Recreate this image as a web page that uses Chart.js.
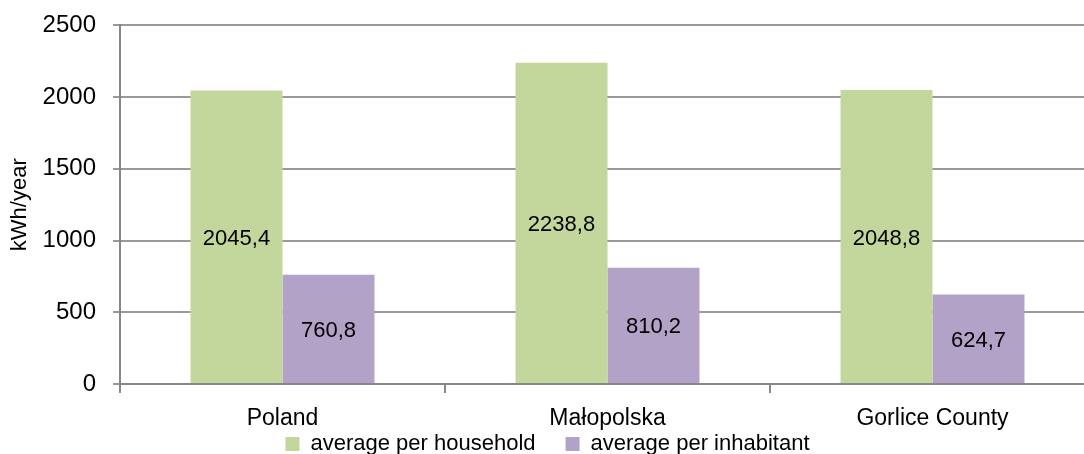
<!DOCTYPE html>
<html>
<head>
<meta charset="utf-8">
<script src="https://cdn.jsdelivr.net/npm/chart.js@4"></script>
<style>
  html, body { margin: 0; padding: 0; background: #fff; overflow: hidden; }
  #wrap { width: 1100px; height: 471px; margin-top: -6px; }
</style>
</head>
<body>
<div id="wrap"><canvas id="myChart" width="1100" height="471"></canvas></div>
<script>
'use strict';
let regions = ['Poland', 'Małopolska', 'Gorlice County'];
let perHousehold = [2045.4, 2238.8, 2048.8];
let perInhabitant = [760.8, 810.2, 624.7];
let seriesNames = ['average per household', 'average per inhabitant'];
let yTicks = [0, 500, 1000, 1500, 2000, 2500];

let fontName = '"Liberation Sans", Arial, sans-serif';

// labels in the middle of each bar, comma decimals
let barLabels = {
    id: 'barLabels',
    afterDatasetsDraw(chart) {
        let ctx = chart.ctx;
        ctx.save();
        ctx.font = '22px ' + fontName;
        ctx.fillStyle = '#000';
        ctx.textAlign = 'center';
        ctx.textBaseline = 'middle';
        chart.data.datasets.forEach((ds, i) => {
            chart.getDatasetMeta(i).data.forEach((bar, j) => {
                let txt = ds.data[j].toFixed(1).replace('.', ',');
                ctx.fillText(txt, bar.x, (bar.y + bar.base) / 2 + 2);
            });
        });
        ctx.restore();
    }
};

let ctx = document.getElementById('myChart').getContext('2d');
let myChart = new Chart(ctx, {
    type: 'bar',
    data: {
        labels: regions,
        datasets: [{
            label: seriesNames[0],
            data: perHousehold,
            backgroundColor: '#c3d69b'
        }, {
            label: seriesNames[1],
            data: perInhabitant,
            backgroundColor: '#b2a2c7'
        }]
    },
    options: {
        responsive: false,
        animation: false,
        layout: { padding: { top: 19, left: 0, right: 5, bottom: 0 } },
        datasets: {
            bar: { barPercentage: 1, categoryPercentage: 0.566 }
        },
        plugins: {
            tooltip: { enabled: false },
            legend: {
                position: 'bottom',
                labels: {
                    boxWidth: 14,
                    boxHeight: 14,
                    padding: 30,
                    color: '#000',
                    font: { family: fontName, size: 22 }
                }
            }
        },
        scales: {
            x: {
                grid: { drawOnChartArea: false, color: '#888', lineWidth: 2, tickLength: 9, offset: true },
                border: { color: '#888', width: 2 },
                // mirror + negative padding: labels sit below the short axis box without being clipped
                ticks: { color: '#000', mirror: true, padding: -48, font: { family: fontName, size: 23 } },
                afterFit(scale) { scale.height = 19; }
            },
            y: {
                min: 0,
                max: 2500,
                afterBuildTicks(scale) { scale.ticks = yTicks.map(v => ({ value: v })); },
                grid: { color: '#999', lineWidth: 2, tickLength: 7 },
                border: { color: '#888', width: 2 },
                ticks: {
                    color: '#000',
                    padding: 17,
                    font: { family: fontName, size: 24 },
                    callback: v => String(v)
                },
                title: {
                    display: true,
                    text: 'kWh/year',
                    color: '#000',
                    padding: { top: 7, bottom: 0 },
                    font: { family: fontName, size: 22 }
                },
                afterFit(scale) { scale.width = 120; }
            }
        }
    },
    plugins: [barLabels]
});
console.log(JSON.stringify(myChart.chartArea));
</script>
</body>
</html>
